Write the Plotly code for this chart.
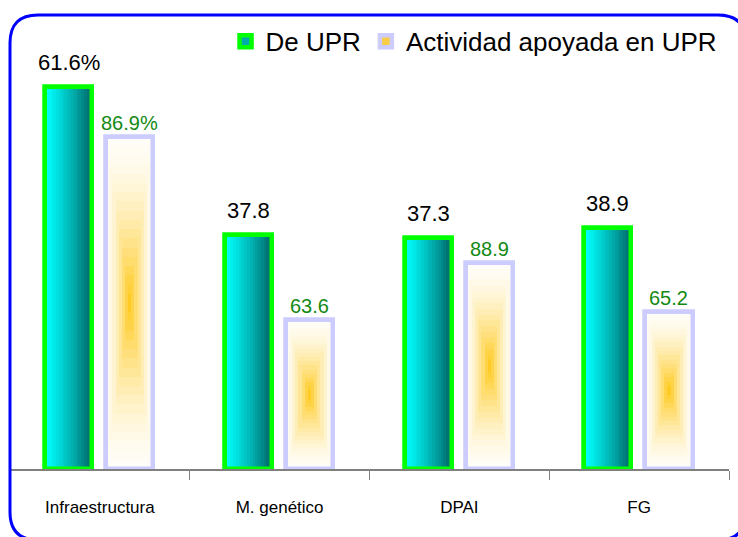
import plotly.graph_objects as go

# ---------------- data ----------------
categories = ["Infraestructura", "M. genético", "DPAI", "FG"]
series_names = ["De UPR", "Actividad apoyada en UPR"]
de_upr = [61.6, 37.8, 37.3, 38.9]
de_upr_labels = ["61.6%", "37.8", "37.3", "38.9"]
apoyada_pct = [86.9, 63.6, 88.9, 65.2]
apoyada_labels = ["86.9%", "63.6", "88.9", "65.2"]

# second series is drawn as a share of the first one
apoyada_height = [a * b / 100.0 for a, b in zip(de_upr, apoyada_pct)]

# ---------------- styling ----------------
FONT = "Liberation Sans, Arial, sans-serif"
W = 0.262            # bar width (category units)
OFF1 = -0.305        # offset of first series
OFF2 = 0.035         # offset of second series
N_STRIPS = 17
NX, NY = 15, 36


def lerp(c1, c2, t):
    return "rgb(%d,%d,%d)" % tuple(round(a + (b - a) * t) for a, b in zip(c1, c2))


fig = go.Figure()

# --- series 1: base (legend) ---
fig.add_trace(go.Bar(
    x=categories, y=de_upr, name=series_names[0], width=W, offset=OFF1,
    marker=dict(color="rgb(0,170,170)", line=dict(color="#00FF00", width=4.5)),
    legendgroup="s1", showlegend=True, hoverinfo="skip"))
# horizontal cyan -> teal gradient strips
for i in range(N_STRIPS):
    t = (i + 0.5) / N_STRIPS
    fig.add_trace(go.Bar(
        x=categories, y=de_upr, width=W / N_STRIPS, offset=OFF1 + i * W / N_STRIPS,
        marker=dict(color=lerp((0, 255, 255), (0, 100, 100), t ** 1.2), line=dict(width=0)),
        showlegend=False, legendgroup="s1", hoverinfo="skip"))
# border on top
fig.add_trace(go.Bar(
    x=categories, y=de_upr, width=W, offset=OFF1,
    marker=dict(color="rgba(0,0,0,0)", line=dict(color="#00FF00", width=4.5)),
    showlegend=False, legendgroup="s1", hoverinfo="skip"))

# --- series 2: base (legend) ---
fig.add_trace(go.Bar(
    x=categories, y=apoyada_height, name=series_names[1], width=W, offset=OFF2,
    marker=dict(color="rgb(250,205,70)", line=dict(color="#CCCCFF", width=4.5)),
    legendgroup="s2", showlegend=True, hoverinfo="skip"))
# "from centre" rectangular gradient cells
for ix in range(NX):
    dx = abs(((ix + 0.5) / NX - 0.5) / 0.5)
    for iy in range(NY):
        dy = abs(((iy + 0.5) / NY - 0.5) / 0.5)
        d = max(dx, dy)
        inten = max(0.0, 1 - d) ** 1.6
        col = lerp((255, 253, 248), (255, 200, 25), inten)
        fig.add_trace(go.Bar(
            x=categories,
            y=[h / NY for h in apoyada_height],
            base=[h * iy / NY for h in apoyada_height],
            width=W / NX, offset=OFF2 + ix * W / NX,
            marker=dict(color=col, line=dict(width=0)),
            showlegend=False, legendgroup="s2", hoverinfo="skip"))
fig.add_trace(go.Bar(
    x=categories, y=apoyada_height, width=W, offset=OFF2,
    marker=dict(color="rgba(0,0,0,0)", line=dict(color="#CCCCFF", width=4.5)),
    showlegend=False, legendgroup="s2", hoverinfo="skip"))

# ---------------- labels ----------------
annotations = []
for i, (v, lab) in enumerate(zip(de_upr, de_upr_labels)):
    annotations.append(dict(x=i + OFF1 + W / 2, y=v, xref="x", yref="y", text=lab,
                            showarrow=False, yanchor="bottom", yshift=10,
                            font=dict(family=FONT, size=22, color="#000000")))
for i, (v, lab) in enumerate(zip(apoyada_height, apoyada_labels)):
    annotations.append(dict(x=i + OFF2 + W / 2, y=v, xref="x", yref="y", text=lab,
                            showarrow=False, yanchor="bottom", yshift=1,
                            font=dict(family=FONT, size=20, color="#138A13")))

# ---------------- rounded blue frame ----------------
ML, MR, MT, MB = 10, 9, 0, 68
PW, PH = 738 - ML - MR, 537 - MT - MB


def pp(x, y):
    return "%.5f,%.5f" % ((x - ML) / PW, (PH + MT - y) / PH)


L, T, R, B, r = 10, 15, 746, 540, 28
path = ("M" + pp(L, T + r) + " Q" + pp(L, T) + " " + pp(L + r, T) +
        " L" + pp(R - r, T) + " Q" + pp(R, T) + " " + pp(R, T + r) +
        " L" + pp(R, B - r) + " Q" + pp(R, B) + " " + pp(R - r, B) +
        " L" + pp(L + r, B) + " Q" + pp(L, B) + " " + pp(L, B - r) + " Z")

fig.update_layout(
    width=738, height=537, autosize=False,
    margin=dict(l=ML, r=MR, t=MT, b=MB),
    paper_bgcolor="white", plot_bgcolor="white",
    barmode="overlay", bargap=0,
    font=dict(family=FONT, color="#000000"),
    showlegend=True,
    legend=dict(orientation="h", x=0.991, xanchor="right", y=0.962, yanchor="top",
                font=dict(family=FONT, size=26, color="#000000"),
                bgcolor="rgba(0,0,0,0)", traceorder="normal", itemwidth=30),
    annotations=annotations,
    shapes=[dict(type="path", xref="paper", yref="paper", path=path,
                 line=dict(color="#0000FF", width=3), fillcolor="rgba(0,0,0,0)")],
    xaxis=dict(type="category", range=[-0.5, 3.5], tickson="boundaries",
               ticks="outside", ticklen=9, tickcolor="#808080", tickwidth=1.3,
               showline=True, linecolor="#808080", linewidth=1.5,
               showgrid=False, zeroline=False, ticklabelstandoff=22,
               tickfont=dict(family=FONT, size=17, color="#000000"), fixedrange=True),
    yaxis=dict(range=[0, 75.6], visible=False, showgrid=False, zeroline=False, fixedrange=True),
)

fig.write_html("out.html", config={"displayModeBar": False},
               post_script="document.body.style.margin='0';document.body.style.padding='0';")
